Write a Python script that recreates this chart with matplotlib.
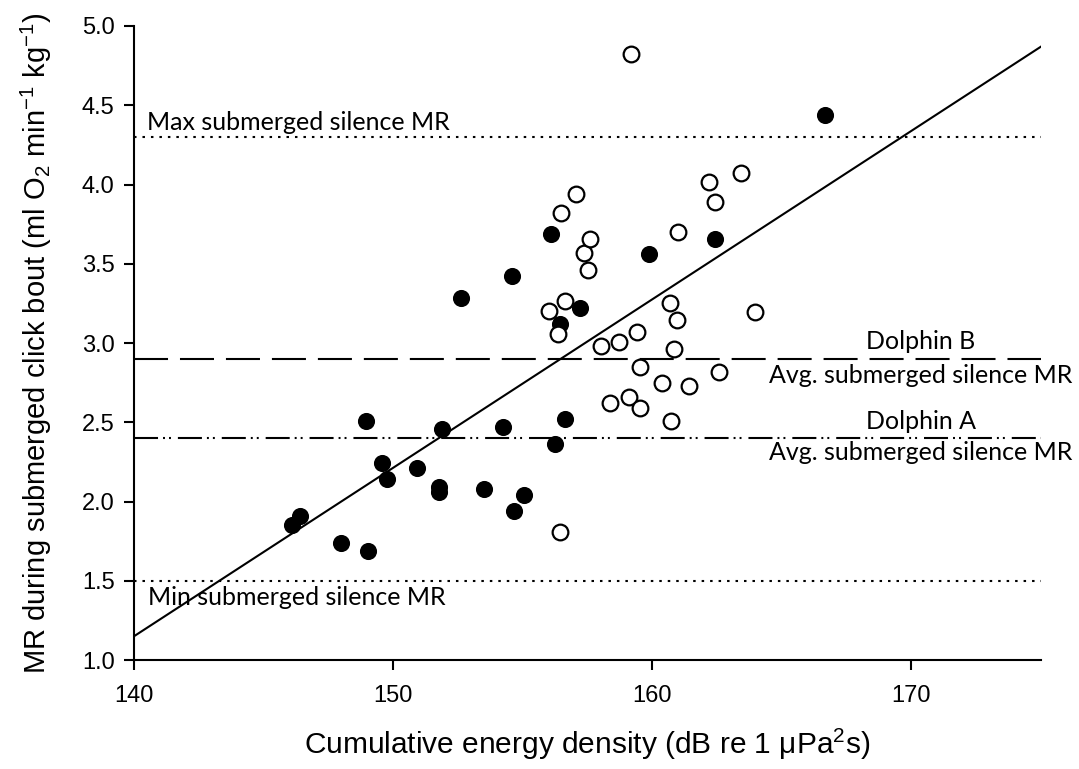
import numpy as np
import matplotlib
matplotlib.use("Agg")
import matplotlib.pyplot as plt

# --- data ---
filled_x = [146.11, 146.40, 147.98, 148.96, 149.02, 149.56, 149.78, 150.92, 151.76, 151.76,
            151.89, 152.62, 153.49, 154.22, 154.57, 154.67, 155.03, 156.11, 156.26, 156.45,
            156.64, 157.22, 159.86, 162.43, 166.65]
filled_y = [1.855, 1.91, 1.74, 2.51, 1.687, 2.24, 2.14, 2.21, 2.09, 2.06,
            2.457, 3.285, 2.08, 2.467, 3.42, 1.94, 2.04, 3.686, 2.365, 3.12,
            2.52, 3.224, 3.564, 3.656, 4.44]

open_x = [156.45, 158.35, 159.12, 159.54, 160.73, 160.37, 161.40, 162.58, 159.54, 160.82,
          158.02, 158.72, 159.42, 156.38, 156.02, 156.65, 160.69, 160.95, 163.95, 157.52,
          157.38, 157.58, 156.46, 157.04, 160.98, 162.43, 162.20, 163.43, 159.17]
open_y = [1.81, 2.62, 2.662, 2.589, 2.505, 2.75, 2.73, 2.82, 2.847, 2.962,
          2.98, 3.008, 3.07, 3.057, 3.203, 3.266, 3.253, 3.145, 3.197, 3.459,
          3.568, 3.654, 3.82, 3.937, 3.70, 3.891, 4.013, 4.071, 4.822]

fit_x = [140, 175]
fit_y = [1.15, 4.87]

max_mr = 4.3
min_mr = 1.5
avg_b = 2.9
avg_a = 2.4

plt.rcParams["lines.scale_dashes"] = False
plt.rcParams["font.family"] = "Liberation Sans"
plt.rcParams["mathtext.fontset"] = "custom"
plt.rcParams["mathtext.rm"] = "Liberation Sans"
plt.rcParams["mathtext.it"] = "Liberation Sans"

fig = plt.figure(figsize=(10.79, 7.69), dpi=100)
ax = fig.add_axes([0.1242, 0.1417, 0.8406, 0.8245])

lw = 1.5
ax.axhline(max_mr, color="black", lw=lw, linestyle=(0, (1.8, 4.3)))
ax.axhline(min_mr, color="black", lw=lw, linestyle=(0, (1.8, 4.3)))
ax.axhline(avg_b, color="black", lw=lw, linestyle=(0, (24.5, 8.6)))
ax.axhline(avg_a, color="black", lw=lw, linestyle=(0, (17.3, 3.6, 1.4, 2.9, 1.4, 5.0)))

ax.plot(fit_x, fit_y, color="black", lw=lw, zorder=3)

ax.plot(filled_x, filled_y, "o", ms=11.3, mfc="black", mec="black", zorder=4)
ax.plot(open_x, open_y, "o", ms=11.3, mfc="white", mec="black", mew=1.6, zorder=4)

# line labels
lab_font = dict(family="Lato", fontsize=18, color="black")
ax.text(140.5, 4.344, "Max submerged silence MR", ha="left", va="baseline", **lab_font)
ax.text(140.53, 1.347, "Min submerged silence MR", ha="left", va="baseline", **lab_font)
ax.text(170.35, 2.962, "Dolphin B", ha="center", va="baseline", **lab_font)
ax.text(170.35, 2.75, "Avg. submerged silence MR", ha="center", va="baseline", clip_on=False, **lab_font)
ax.text(170.35, 2.457, "Dolphin A", ha="center", va="baseline", **lab_font)
ax.text(170.35, 2.262, "Avg. submerged silence MR", ha="center", va="baseline", clip_on=False, **lab_font)

ax.set_xlim(140, 175)
ax.set_ylim(1.0, 5.0)
ax.set_xticks([140, 150, 160, 170])
ax.set_yticks(np.arange(1.0, 5.01, 0.5))
ax.yaxis.set_major_formatter(matplotlib.ticker.FormatStrFormatter("%.1f"))

for s in ["top", "right"]:
    ax.spines[s].set_visible(False)
for s in ["left", "bottom"]:
    ax.spines[s].set_linewidth(1.5)
ax.tick_params(direction="out", length=7, width=1.5, labelsize=17)
ax.tick_params(axis="x", pad=11)
ax.tick_params(axis="y", pad=7)

ax.set_xlabel(r"Cumulative energy density (dB re 1 μPa$^2$s)", fontsize=21.5, labelpad=14)
ax.set_ylabel(r"MR during submerged click bout (ml O$_2$ min$^{-1}$ kg$^{-1}$)", fontsize=21, labelpad=20)

fig.savefig("out.png", dpi=100)
